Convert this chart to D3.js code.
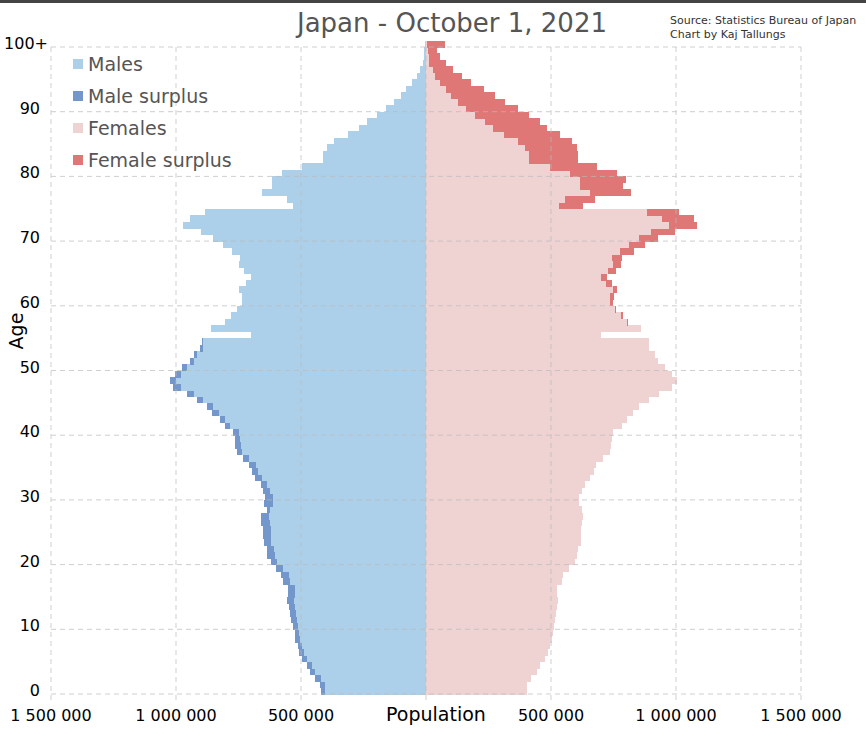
<!DOCTYPE html>
<html><head><meta charset="utf-8">
<script src="https://cdn.jsdelivr.net/npm/d3@7"></script>
<style>body{margin:0;background:#fff}svg{display:block}</style>
</head><body><svg id="c" width="866" height="741"></svg>
<script>
// ages 0..100 (100 = 100+), values in persons
const ages = d3.range(0, 101);
const males = [421,424,443,464,477,497,509,512,523,525,533,539,544,547,555,551,551,573,580,600,
621,635,637,648,651,653,661,660,635,647,644,651,661,683,697,708,731,755,763,764,
771,804,824,855,877,917,957,1011,1024,1005,975,944,927,904,897,699,859,803,781,755,
737,737,747,721,700,729,749,743,777,813,851,900,973,944,883,533,555,657,617,617,
577,497,413,413,397,367,313,267,235,197,161,127,101,80,55,37,26,13,10,7,5].map(v=>v*1000);
const females = [403,405,421,443,456,475,488,496,504,509,512,516,519,523,529,525,525,543,547,573,
596,605,609,620,621,621,623,627,624,613,613,625,636,656,672,680,707,736,741,744,
747,783,803,829,853,893,930,982,1002,982,956,928,915,893,891,699,859,808,787,760,
747,752,765,745,723,760,781,783,831,877,927,996,1084,1072,1011,629,676,820,787,799,
763,683,608,608,605,585,536,483,456,413,368,316,275,232,179,144,109,80,56,43,75].map(v=>v*1000);
const xTicks = [-1500000,-1000000,-500000,500000,1000000,1500000];
const xTickLabels = ["1 500 000","1 000 000","500 000","500 000","1 000 000","1 500 000"];
const yTicks = [0,10,20,30,40,50,60,70,80,90,100];
const yTickLabels = ["0","10","20","30","40","50","60","70","80","90","100+"];
const legendItems = ["Males","Male surplus","Females","Female surplus"];
const colors = {m:"#acd0e9", ms:"#7397cb", f:"#efd3d3", fs:"#e07777"};

const svg = d3.select("#c");
const x = d3.scaleLinear().domain([-1500000,1500000]).range([51,801]);
const y = d3.scaleLinear().domain([0,100]).range([694,47]);

svg.append("rect").attr("x",0).attr("y",0).attr("width",866).attr("height",3).attr("fill","#444");

const g = svg.append("g").attr("shape-rendering","crispEdges");
ages.forEach((a,i)=>{
  const M = males[i], F = females[i];
  const y0 = y(a+1), h = y(a)-y(a+1)+0.6;
  g.append("rect").attr("x",x(-M)).attr("y",y0).attr("width",x(0)-x(-M)).attr("height",h).attr("fill",colors.m);
  g.append("rect").attr("x",x(0)).attr("y",y0).attr("width",x(F)-x(0)).attr("height",h).attr("fill",colors.f);
  if (M>F) g.append("rect").attr("x",x(-M)).attr("y",y0).attr("width",x(-F)-x(-M)).attr("height",h).attr("fill",colors.ms);
  if (F>M) g.append("rect").attr("x",x(M)).attr("y",y0).attr("width",x(F)-x(M)).attr("height",h).attr("fill",colors.fs);
});

// grid
const grid = svg.append("g").attr("stroke","#bbb").attr("stroke-dasharray","5,4").attr("stroke-width",1).attr("opacity",0.7);
yTicks.forEach(t=>grid.append("line").attr("x1",51).attr("x2",801).attr("y1",y(t)).attr("y2",y(t)));
[-1500000,-1000000,-500000,0,500000,1000000,1500000].forEach(t=>grid.append("line").attr("x1",x(t)).attr("x2",x(t)).attr("y1",y(100)).attr("y2",y(0)+6));

// axes labels
const ft = "DejaVu Sans, sans-serif";
yTicks.forEach((t,i)=>svg.append("text").attr("x",i===10?48:40).attr("y",y(t)+2).attr("text-anchor","end")
  .attr("font-family",ft).attr("font-size",16).attr("fill","#000").text(yTickLabels[i]));
xTicks.forEach((t,i)=>svg.append("text").attr("x",x(t)).attr("y",721).attr("text-anchor","middle")
  .attr("font-family",ft).attr("font-size",16).attr("fill","#000").text(xTickLabels[i]));
svg.append("text").attr("x",436).attr("y",721).attr("text-anchor","middle").attr("font-family",ft).attr("font-size",19).text("Population");
svg.append("text").attr("transform","translate(23,331) rotate(-90)").attr("text-anchor","middle").attr("font-family",ft).attr("font-size",19).text("Age");

// title
svg.append("text").attr("x",452).attr("y",32).attr("text-anchor","middle").attr("font-family",ft).attr("font-size",26).attr("fill","#555").text("Japan - October 1, 2021");
svg.append("text").attr("x",670).attr("y",24).attr("font-family",ft).attr("font-size",11).attr("fill","#333").text("Source: Statistics Bureau of Japan");
svg.append("text").attr("x",670).attr("y",38).attr("font-family",ft).attr("font-size",11).attr("fill","#333").text("Chart by Kaj Tallungs");

// legend
const lc = [colors.m,colors.ms,colors.f,colors.fs];
legendItems.forEach((t,i)=>{
  svg.append("rect").attr("x",73).attr("y",59+i*32).attr("width",10).attr("height",10).attr("fill",lc[i]);
  svg.append("text").attr("x",88).attr("y",71+i*32).attr("font-family",ft).attr("font-size",19).attr("fill","#555").text(t);
});
</script></body></html>
